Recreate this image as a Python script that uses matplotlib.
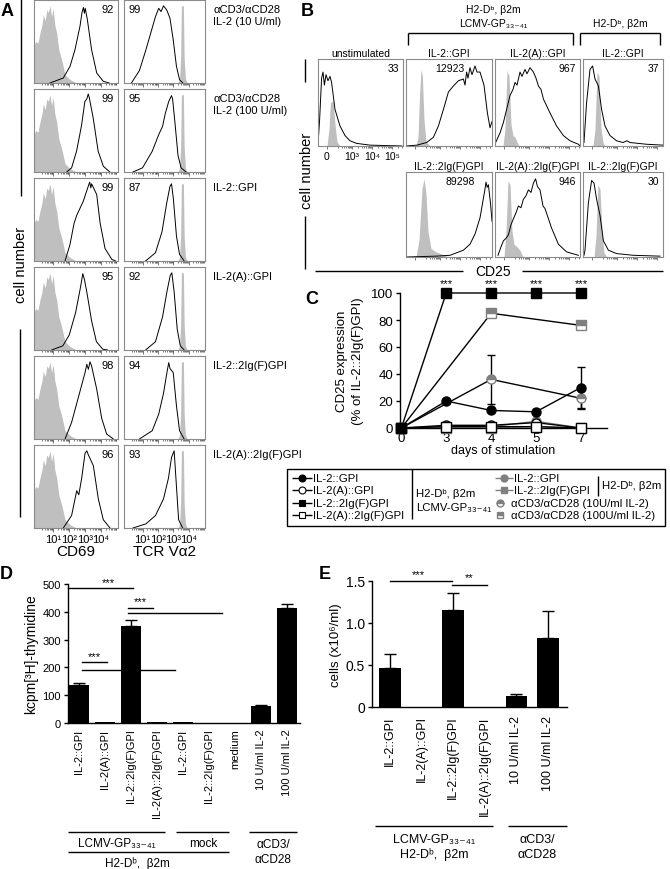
import numpy as np
import matplotlib
matplotlib.use('Agg')
import matplotlib.pyplot as plt
from matplotlib.patches import Rectangle

plt.rcParams['font.family'] = ['Liberation Sans', 'DejaVu Sans']
plt.rcParams['axes.linewidth'] = 1.0

W, H = 670, 870

# ---------------- A: histograms (x = log10 intensity, y = fraction of max) ----------------
a_rows = ['αCD3/αCD28\nIL-2 (10 U/ml)', 'αCD3/αCD28\nIL-2 (100 U/ml)', 'IL-2::GPI',
          'IL-2(A)::GPI', 'IL-2::2Ig(F)GPI', 'IL-2(A)::2Ig(F)GPI']
a_cd69_pct = [92, 99, 99, 95, 98, 96]
a_tcr_pct = [99, 95, 87, 92, 94, 93]

a_cd69_iso = [(-0.2, 0.45), (-0.1, 0.5), (0.05, 0.48), (0.17, 0.6), (0.3, 0.7), (0.38, 0.82),
              (0.5, 0.75), (0.6, 0.88), (0.7, 0.85), (0.8, 0.93), (0.9, 0.8), (1.0, 0.9),
              (1.1, 0.7), (1.22, 0.6), (1.35, 0.4), (1.53, 0.28), (1.74, 0.1), (2.0, 0.05),
              (2.15, 0.03), (2.47, 0)]
a_tcr_iso = [(3.3, 0), (3.4, 0.05), (3.47, 0.3), (3.52, 0.93), (3.65, 0.93), (3.7, 0.3),
             (3.78, 0.05), (3.9, 0)]

a_cd69 = [
    [(0.8, 0), (1.63, 0.06), (2.05, 0.2), (2.36, 0.4), (2.68, 0.69), (2.8, 0.85), (2.89, 0.91),
     (2.95, 0.84), (3.0, 0.9), (3.13, 0.77), (3.4, 0.4), (3.72, 0.12), (4.13, 0.02), (4.5, 0)],
    [(1.84, 0), (2.15, 0.05), (2.46, 0.25), (2.77, 0.56), (2.98, 0.85), (3.1, 0.88), (3.19, 0.94),
     (3.25, 0.9), (3.5, 0.65), (3.81, 0.25), (4.13, 0.07), (4.54, 0)],
    [(1.74, 0), (2.05, 0.2), (2.3, 0.45), (2.47, 0.55), (2.88, 0.72), (3.19, 0.9), (3.28, 0.95),
     (3.35, 0.88), (3.4, 0.93), (3.72, 0.8), (3.93, 0.46), (4.24, 0.15), (4.66, 0.02), (4.9, 0)],
    [(0.9, 0), (1.6, 0.05), (2.0, 0.18), (2.4, 0.45), (2.7, 0.75), (2.85, 0.92), (2.95, 0.85),
     (3.1, 0.7), (3.4, 0.35), (3.7, 0.1), (4.1, 0.01), (4.4, 0)],
    [(1.74, 0), (2.15, 0.2), (2.57, 0.5), (2.99, 0.8), (3.1, 0.9), (3.2, 0.84), (3.3, 0.93),
     (3.4, 0.88), (3.72, 0.6), (4.03, 0.25), (4.34, 0.06), (4.76, 0)],
    [(1.63, 0), (2.15, 0.15), (2.47, 0.45), (2.6, 0.4), (2.78, 0.6), (2.99, 0.9), (3.1, 0.93),
     (3.2, 0.88), (3.51, 0.75), (3.82, 0.35), (4.13, 0.1), (4.55, 0)],
]
a_tcr = [
    [(0.28, 0), (0.8, 0.15), (1.22, 0.4), (1.53, 0.6), (1.84, 0.8), (2.05, 0.9), (2.2, 0.86),
     (2.36, 0.93), (2.57, 0.88), (2.78, 0.78), (2.99, 0.52), (3.2, 0.2), (3.4, 0.04), (3.61, 0)],
    [(0.38, 0), (1.0, 0.05), (1.63, 0.25), (2.05, 0.45), (2.3, 0.55), (2.47, 0.7), (2.7, 0.85),
     (2.88, 0.92), (2.95, 0.88), (3.1, 0.6), (3.3, 0.2), (3.5, 0.05), (3.82, 0)],
    [(1.2, 0), (1.84, 0.1), (2.26, 0.35), (2.57, 0.7), (2.78, 0.9), (2.88, 0.93), (3.0, 0.75),
     (3.2, 0.3), (3.4, 0.08), (3.7, 0)],
    [(1.2, 0), (1.84, 0.1), (2.3, 0.4), (2.6, 0.72), (2.8, 0.9), (2.9, 0.93), (3.05, 0.7),
     (3.25, 0.25), (3.45, 0.05), (3.7, 0)],
    [(0.8, 0), (1.63, 0.1), (2.05, 0.3), (2.36, 0.55), (2.6, 0.82), (2.7, 0.92), (2.78, 0.85),
     (2.99, 0.8), (3.2, 0.4), (3.4, 0.1), (3.7, 0)],
    [(0.38, 0), (1.22, 0.05), (1.84, 0.15), (2.36, 0.35), (2.68, 0.6), (2.88, 0.85), (3.05, 0.93),
     (3.2, 0.5), (3.34, 0.1), (3.6, 0)],
]

# ---------------- B: CD25 histograms (x in display decades) ----------------
b_titles = ['unstimulated', 'IL-2::GPI', 'IL-2(A)::GPI', 'IL-2::GPI',
            'IL-2::2Ig(F)GPI', 'IL-2(A)::2Ig(F)GPI', 'IL-2::2Ig(F)GPI']
b_mfi = ['33', '12923', '967', '37', '89298', '946', '30']
b_iso = [
    [(0.45, 0), (0.55, 0.2), (0.62, 0.5), (0.75, 0.52), (0.85, 0.25), (0.95, 0.05), (1.1, 0)],
    [(0.5, 0), (0.6, 0.1), (0.68, 0.6), (0.75, 0.88), (0.82, 0.8), (0.9, 0.3), (1.0, 0.05), (1.2, 0)],
    [(0.4, 0), (0.5, 0.2), (0.6, 0.87), (0.7, 0.8), (0.8, 0.25), (0.9, 0.12), (1.0, 0.1), (1.2, 0)],
    [(0.5, 0), (0.6, 0.2), (0.7, 0.85), (0.8, 0.8), (0.9, 0.2), (1.0, 0.04), (1.1, 0)],
    [(0.5, 0), (0.65, 0.2), (0.8, 0.8), (0.9, 0.92), (1.0, 0.75), (1.1, 0.3), (1.25, 0.1),
     (1.5, 0.06), (1.85, 0.03), (2.1, 0)],
    [(0.45, 0), (0.55, 0.3), (0.65, 0.9), (0.75, 0.85), (0.85, 0.3), (0.95, 0.15), (1.1, 0.12),
     (1.25, 0.08), (1.4, 0)],
    [(0.55, 0), (0.65, 0.25), (0.75, 0.85), (0.85, 0.8), (0.95, 0.3), (1.05, 0.05), (1.2, 0)],
]
b_cd25 = [
    [(0.0, 0.02), (0.08, 0.3), (0.18, 0.78), (0.25, 0.85), (0.32, 0.7), (0.4, 0.82), (0.5, 0.75),
     (0.6, 0.8), (0.68, 0.73), (0.85, 0.42), (1.1, 0.23), (1.35, 0.12), (1.6, 0.06), (1.93, 0.03),
     (2.6, 0.01), (4.2, 0)],
    [(0.0, 0), (0.55, 0.01), (1.03, 0.04), (1.37, 0.1), (1.62, 0.23), (1.87, 0.42), (2.12, 0.62),
     (2.37, 0.69), (2.62, 0.75), (2.87, 0.77), (2.95, 0.7), (3.03, 0.85), (3.1, 0.78), (3.2, 0.9),
     (3.3, 0.82), (3.45, 0.92), (3.55, 0.85), (3.7, 0.85), (3.9, 0.7), (4.07, 0.38), (4.2, 0.21),
     (4.3, 0.28)],
    [(0.03, 0.04), (0.25, 0.15), (0.42, 0.27), (0.58, 0.42), (0.75, 0.58), (0.9, 0.65), (1.0, 0.73),
     (1.1, 0.7), (1.25, 0.85), (1.35, 0.8), (1.5, 0.88), (1.6, 0.83), (1.75, 0.9), (1.92, 0.85),
     (2.05, 0.78), (2.17, 0.69), (2.3, 0.65), (2.42, 0.54), (2.75, 0.38), (3.08, 0.23),
     (3.42, 0.12), (3.75, 0.06), (4.17, 0.02), (4.25, 0)],
    [(0.05, 0.04), (0.18, 0.5), (0.35, 0.88), (0.48, 0.92), (0.6, 0.77), (0.77, 0.69), (0.93, 0.42),
     (1.1, 0.23), (1.35, 0.12), (1.68, 0.06), (2.0, 0.04), (2.2, 0.06), (2.35, 0.04), (3.18, 0.02),
     (4.0, 0.01)],
    [(0.0, 0), (1.5, 0.01), (2.2, 0.02), (2.87, 0.08), (3.2, 0.15), (3.45, 0.27), (3.7, 0.46),
     (3.87, 0.69), (3.95, 0.8), (4.0, 0.88), (4.06, 0.82), (4.12, 0.85), (4.23, 0.62), (4.3, 0.42)],
    [(0.15, 0.02), (0.3, 0.12), (0.42, 0.19), (0.55, 0.22), (0.67, 0.26), (0.8, 0.38), (0.92, 0.45),
     (1.05, 0.52), (1.17, 0.6), (1.3, 0.58), (1.42, 0.68), (1.55, 0.72), (1.67, 0.79), (1.8, 0.76),
     (1.92, 0.87), (2.03, 0.92), (2.12, 0.83), (2.25, 0.79), (2.4, 0.6), (2.5, 0.57), (2.83, 0.34),
     (3.17, 0.15), (3.58, 0.06), (4.17, 0.02)],
    [(0.05, 0.02), (0.1, 0.08), (0.27, 0.64), (0.43, 0.9), (0.55, 0.87), (0.68, 0.68), (0.85, 0.49),
     (1.02, 0.19), (1.27, 0.08), (1.68, 0.04), (2.52, 0.02), (3.85, 0.01)],
]

# ---------------- C: CD25 expression kinetics ----------------
c_days = ['0', '3', '4', '5', '7']
c_il2_gpi = [0, 20, 13, 12, 30]
c_il2_gpi_err = [0, 0, 0, 0, 15]
c_il2a_gpi = [0, 2, 2, 4, 0]
c_il2_2ig = [0, 100, 100, 100, 100]
c_il2a_2ig = [0, 1, 1, 1, 0]
c_ctrl_gpi = [0, 1, 1, 5, 0]
c_ctrl_2ig = [0, 0, 0, 1, 0]
c_cd3_10 = [0, np.nan, 36, np.nan, 22]
c_cd3_10_err = [0, 0, 18, 0, 8]
c_cd3_100 = [0, np.nan, 85, np.nan, 76]
c_cd3_100_err = [0, 0, 2, 0, 3]

# ---------------- D: proliferation ----------------
d_labels = ['IL-2::GPI', 'IL-2(A)::GPI', 'IL-2::2Ig(F)GPI', 'IL-2(A)::2Ig(F)GPI',
            'IL-2::GPI', 'IL-2::2Ig(F)GPI', 'medium', '10 U/ml IL-2', '100 U/ml IL-2']
d_vals = [135, 5, 348, 4, 2, 1, 0, 62, 415]
d_err = [10, 0, 24, 0, 0, 0, 0, 2, 13]

# ---------------- E: cell counts ----------------
e_labels = ['IL-2::GPI', 'IL-2(A)::GPI', 'IL-2::2Ig(F)GPI', 'IL-2(A)::2Ig(F)GPI',
            '10 U/ml IL-2', '100 U/ml IL-2']
e_vals = [0.46, 0, 1.15, 0, 0.13, 0.82]
e_err = [0.17, 0, 0.21, 0, 0.025, 0.32]

fig = plt.figure(figsize=(W / 100, H / 100), dpi=100)


def px_axes(l, t, r, b):
    return fig.add_axes([l / W, 1 - b / H, (r - l) / W, (b - t) / H])


ov = fig.add_axes([0, 0, 1, 1], zorder=10)
ov.set_xlim(0, W)
ov.set_ylim(H, 0)
ov.axis('off')


def hline(x0, x1, y, lw=1.0, c='k'):
    ov.plot([x0, x1], [y, y], color=c, lw=lw, solid_capstyle='butt')


def vline(x, y0, y1, lw=1.0, c='k'):
    ov.plot([x, x], [y0, y1], color=c, lw=lw, solid_capstyle='butt')


def histo(ax, iso, curve):
    x, y = np.array(iso).T
    ax.fill_between(x, y, color='#bfbfbf', lw=0, zorder=1)
    x, y = np.array(curve).T
    ax.plot(x, y, color='k', lw=0.7, zorder=2)
    ax.set_yticks([])
    ax.set_ylim(0, 1)
    for s in ax.spines.values():
        s.set_color('#8a8a8a')
        s.set_linewidth(0.8)


# ---------------- panel A ----------------
a_cols = [(34, 118), (124, 205)]
a_minor = [n + np.log10(k) for n in range(0, 5) for k in range(2, 10)]
for i in range(6):
    top = 1 + 89 * i
    bot = top + 83
    for j, (l, r) in enumerate(a_cols):
        ax = px_axes(l, top, r, bot)
        if j == 0:
            histo(ax, a_cd69_iso, a_cd69[i])
            ax.text(0.95, 0.95, str(a_cd69_pct[i]), transform=ax.transAxes, ha='right', va='top', fontsize=8)
        else:
            histo(ax, a_tcr_iso, a_tcr[i])
            ax.text(0.06, 0.95, str(a_tcr_pct[i]), transform=ax.transAxes, ha='left', va='top', fontsize=8)
        ax.set_xlim(-0.2, 5.05)
        ax.set_xticks([1, 2, 3, 4])
        ax.set_xticks(a_minor, minor=True)
        ax.tick_params(axis='x', which='major', length=3, width=0.5, color='#444444', pad=1)
        ax.tick_params(axis='x', which='minor', length=1.5, width=0.5, color='#444444')
        if i == 5:
            ax.set_xticklabels(['10¹', '10²', '10³', '10⁴'], fontsize=8)
            ax.set_xlabel(['CD69', 'TCR Vα2'][j], fontsize=11, labelpad=0)
        else:
            ax.set_xticklabels([])
    ov.text(213, top + 4, a_rows[i], ha='left', va='top', fontsize=8, linespacing=1.25)

ov.text(7, 12, 'A', fontsize=13, fontweight='bold', ha='center', va='center')
vline(21, 0, 197)
vline(20, 330, 518)
ov.text(21, 265, 'cell number', rotation=90, ha='center', va='center', fontsize=10.5)

# ---------------- panel B ----------------
b_boxes = [(318, 60, 403, 147), (406, 60, 492, 147), (495, 60, 580, 147), (583, 60, 663, 147),
           (406, 173, 492, 258), (495, 173, 580, 258), (583, 173, 663, 258)]
b_mfi_x = [0.95, 0.51, 0.95, 0.95, 0.63, 0.95, 0.95]
b_minor = [1.7 + n + np.log10(k) for n in range(-1, 3) for k in range(2, 10)]
for k, (l, t, r, b) in enumerate(b_boxes):
    ax = px_axes(l, t, r, b)
    histo(ax, b_iso[k], b_cd25[k])
    ax.set_xlim(0, (r - l) / 20)
    ax.set_xticks([0.45, 1.7, 2.7, 3.7])
    ax.set_xticks([m for m in b_minor if m < (r - l) / 20], minor=True)
    ax.tick_params(axis='x', which='major', length=2.5, width=0.5, color='#444444', pad=1)
    ax.tick_params(axis='x', which='minor', length=1.5, width=0.5, color='#444444')
    if k == 0:
        ax.set_xticklabels(['0', '10³', '10⁴', '10⁵'], fontsize=7.5)
    else:
        ax.set_xticklabels([])
    ha = 'right' if b_mfi_x[k] > 0.9 else 'center'
    ax.text(b_mfi_x[k], 0.95, b_mfi[k], transform=ax.transAxes, ha=ha, va='top', fontsize=7.5)
    ov.text((l + r) / 2, t - 1, b_titles[k], ha='center', va='bottom', fontsize=7.5)

ov.text(307, 12, 'B', fontsize=13, fontweight='bold', ha='center', va='center')
ov.text(493, 10, 'H2-Dᵇ, β2m', ha='center', va='center', fontsize=7.5)
ov.text(493, 24, 'LCMV-GP₃₃₋₄₁', ha='center', va='center', fontsize=7.5)
ov.text(620, 24, 'H2-Dᵇ, β2m', ha='center', va='center', fontsize=7.5)
hline(408, 573, 34)
vline(408, 34, 46)
vline(573, 34, 46)
hline(580, 660, 34)
vline(580, 34, 46)
vline(660, 34, 46)
vline(305, 60, 83)
vline(305, 217, 270)
ov.text(307, 171, 'cell number', rotation=90, ha='center', va='center', fontsize=10.5)
hline(315, 463, 272)
hline(522, 663, 272)
ov.text(493, 272, 'CD25', ha='center', va='center', fontsize=10)

# ---------------- panel C ----------------
ax = px_axes(400, 294, 607, 429)
cx = np.arange(len(c_days))
grey = '#808080'


def cseries(vals, err, marker, mfc, mec, lc, fill='full', alt='white'):
    v = np.array(vals, float)
    e = np.array(err, float) if err is not None else np.zeros(len(v))
    ok = ~np.isnan(v)
    ax.plot(cx[ok], v[ok], color=lc, lw=1, zorder=2, clip_on=False)
    has = ok & (e > 0)
    if has.any():
        ax.errorbar(cx[has], v[has], yerr=e[has], fmt='none', ecolor='k', elinewidth=1,
                    capsize=3, capthick=1, zorder=2, clip_on=False)
    ax.plot(cx[ok], v[ok], ls='none', marker=marker, ms=6.5, mfc=mfc, mec=mec, mew=1,
            fillstyle=fill, markerfacecoloralt=alt, zorder=3, clip_on=False)


cseries(c_ctrl_2ig, None, 's', grey, grey, grey)
cseries(c_ctrl_gpi, None, 'o', grey, grey, grey)
cseries(c_cd3_100, c_cd3_100_err, 's', grey, grey, 'k', fill='top')
cseries(c_cd3_10, c_cd3_10_err, 'o', grey, grey, 'k', fill='top')
cseries(c_il2a_gpi, None, 'o', 'white', 'k', 'k')
cseries(c_il2_gpi, c_il2_gpi_err, 'o', 'k', 'k', 'k')
cseries(c_il2a_2ig, None, 's', 'white', 'k', 'k')
cseries(c_il2_2ig, None, 's', 'k', 'k', 'k')
for xi in cx[1:]:
    ax.text(xi, 107, '***', ha='center', va='center', fontsize=8)
ax.set_xlim(-0.03, 4.58)
ax.set_ylim(0, 100)
ax.set_yticks([0, 20, 40, 60, 80, 100])
ax.set_xticks(cx)
ax.set_xticklabels(c_days)
ax.tick_params(axis='y', length=3, width=1, labelsize=9.5, pad=2)
ax.tick_params(axis='x', length=0, labelsize=9.5, pad=3)
ax.spines['top'].set_visible(False)
ax.spines['right'].set_visible(False)
ax.patch.set_alpha(0)
ax.set_xlabel('days of stimulation', fontsize=9, labelpad=0)
ov.text(342, 361, 'CD25 expression', rotation=90, ha='center', va='center', fontsize=9.5)
ov.text(358, 361, '(% of IL-2::2Ig(F)GPI)', rotation=90, ha='center', va='center', fontsize=9.5)
ov.text(312, 300, 'C', fontsize=13, fontweight='bold', ha='center', va='center')

# legend for C
lf = 8.2
ov.add_patch(Rectangle((287, 470), 378, 57, fill=False, lw=1, ec='k'))
leg_y = [479, 491, 504, 516]
leg1 = [('o', 'k', 'k', 'IL-2::GPI'), ('o', 'white', 'k', 'IL-2(A)::GPI'),
        ('s', 'k', 'k', 'IL-2::2Ig(F)GPI'), ('s', 'white', 'k', 'IL-2(A)::2Ig(F)GPI')]
for y, (m, fc, ec, lab) in zip(leg_y, leg1):
    hline(292, 312, y)
    ov.plot([302], [y], marker=m, ms=5, mfc=fc, mec=ec, mew=0.8)
    ov.text(313, y, lab, ha='left', va='center', fontsize=lf)
vline(412, 470, 520)
ov.text(416, 494, 'H2-Dᵇ, β2m', ha='left', va='center', fontsize=lf)
ov.text(416, 508, 'LCMV-GP₃₃₋₄₁', ha='left', va='center', fontsize=lf)
hline(495, 513, leg_y[0], c=grey)
ov.plot([504], [leg_y[0]], marker='o', ms=5, mfc=grey, mec=grey)
ov.text(514, leg_y[0], 'IL-2::GPI', ha='left', va='center', fontsize=lf)
hline(495, 513, leg_y[1], c=grey)
ov.plot([504], [leg_y[1]], marker='s', ms=5, mfc=grey, mec=grey)
ov.text(514, leg_y[1], 'IL-2::2Ig(F)GPI', ha='left', va='center', fontsize=lf)
ov.plot([500], [leg_y[2]], marker='o', ms=5, mfc=grey, mec=grey, fillstyle='top', markerfacecoloralt='white')
ov.text(511, leg_y[2], 'αCD3/αCD28 (10U/ml IL-2)', ha='left', va='center', fontsize=lf)
ov.plot([500], [leg_y[3]], marker='s', ms=5, mfc=grey, mec=grey, fillstyle='top', markerfacecoloralt='white')
ov.text(511, leg_y[3], 'αCD3/αCD28 (100U/ml IL-2)', ha='left', va='center', fontsize=lf)
vline(598, 477, 497)
ov.text(602, 486, 'H2-Dᵇ, β2m', ha='left', va='center', fontsize=lf)


def bar_panel(ax, labels, vals, err, width, lsize):
    x = np.arange(len(labels))
    ax.bar(x, vals, width=width, color='k', zorder=2)
    e = np.array(err, float)
    has = e > 0
    ax.errorbar(x[has], np.array(vals)[has], yerr=[np.zeros(has.sum()), e[has]], fmt='none',
                ecolor='k', elinewidth=1, capsize=4, capthick=1, zorder=1)
    ax.set_xticks(x)
    ax.set_xticklabels(labels, rotation=90, va='top', ha='center', fontsize=lsize)
    ax.tick_params(axis='x', length=0, pad=4)
    ax.tick_params(axis='y', length=3, width=1, labelsize=8, pad=2)
    ax.spines['top'].set_visible(False)
    ax.spines['right'].set_visible(False)
    ax.patch.set_alpha(0)
    return x


# ---------------- panel D ----------------
ax = px_axes(68, 585, 300, 724)
bar_panel(ax, d_labels, d_vals, d_err, 0.8, 8)
ax.set_xlim(-0.42, 8.5)
ax.set_ylim(0, 500)
ax.set_yticks([0, 100, 200, 300, 400, 500])
ax.set_ylabel('kcpm[³H]-thymidine', fontsize=10, labelpad=3)
sig_d = [(-0.42, 2.08, 486), (1.9, 2.85, 414), (1.9, 5.5, 396), (0.12, 1.08, 219), (0.12, 3.7, 191)]
for x0, x1, yv in sig_d:
    ax.plot([x0, x1], [yv, yv], color='k', lw=1, clip_on=False)
for xs, ys in [(1.15, 507), (2.35, 439), (0.6, 240)]:
    ax.text(xs, ys, '***', ha='center', va='center', fontsize=8, clip_on=False)
ov.text(6, 575, 'D', fontsize=13, fontweight='bold', ha='center', va='center')
hline(68, 165, 833)
hline(176, 229, 833)
hline(249, 297, 833)
hline(68, 229, 853)
ov.text(117, 844, 'LCMV-GP₃₃₋₄₁', ha='center', va='center', fontsize=8.5)
ov.text(203, 844, 'mock', ha='center', va='center', fontsize=8.5)
ov.text(273, 845, 'αCD3/', ha='center', va='center', fontsize=8.5)
ov.text(273, 860, 'αCD28', ha='center', va='center', fontsize=8.5)
ov.text(137, 864, 'H2-Dᵇ,  β2m', ha='center', va='center', fontsize=8.5)

# ---------------- panel E ----------------
ax = px_axes(372, 582, 567, 708)
bar_panel(ax, e_labels, e_vals, e_err, 0.69, 9)
ax.set_xlim(-0.57, 5.6)
ax.set_ylim(0, 1.5)
ax.set_yticks([0, 0.5, 1.0, 1.5])
ax.set_yticklabels(['0', '0.5', '1.0', '1.5'])
ax.tick_params(axis='y', labelsize=10)
ax.tick_params(axis='x', pad=6)
ax.set_ylabel('cells (x10⁶/ml)', fontsize=9.5, labelpad=3)
for x0, x1, yv in [(0, 1.96, 1.5), (1.96, 3.07, 1.45)]:
    ax.plot([x0, x1], [yv, yv], color='k', lw=1, clip_on=False)
ax.text(0.9, 1.58, '***', ha='center', va='center', fontsize=8, clip_on=False)
ax.text(2.5, 1.55, '**', ha='center', va='center', fontsize=8, clip_on=False)
ov.text(325, 575, 'E', fontsize=13, fontweight='bold', ha='center', va='center')
hline(375, 493, 827)
hline(508, 567, 827)
ov.text(434, 840, 'LCMV-GP₃₃₋₄₁', ha='center', va='center', fontsize=9)
ov.text(434, 855, 'H2-Dᵇ,  β2m', ha='center', va='center', fontsize=9)
ov.text(537, 840, 'αCD3/', ha='center', va='center', fontsize=9)
ov.text(537, 855, 'αCD28', ha='center', va='center', fontsize=9)

fig.savefig('out.png', dpi=100)
